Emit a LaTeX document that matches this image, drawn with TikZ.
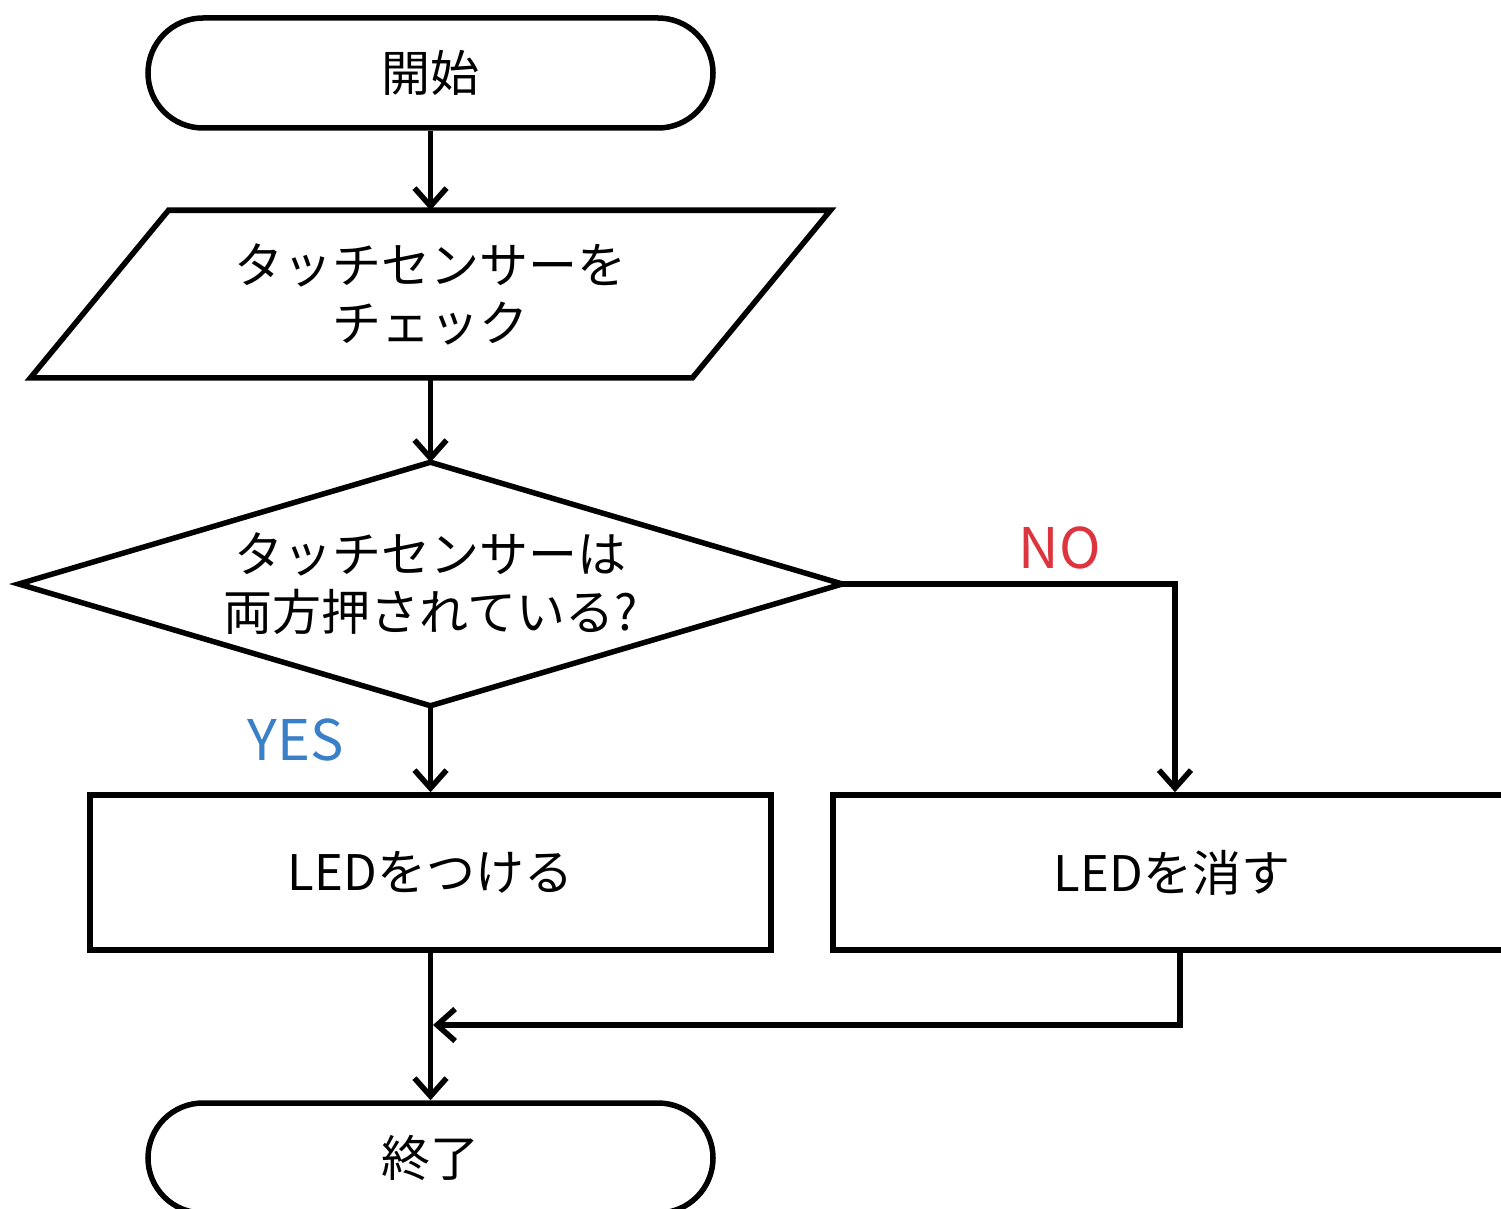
\documentclass[tikz,border=0pt]{standalone}
\usepackage{fontspec}
\setmainfont{Noto Sans CJK JP}
\usetikzlibrary{shapes.misc,arrows.meta}
\definecolor{nored}{RGB}{222,52,62}
\definecolor{yesblue}{RGB}{58,128,200}
\begin{document}
\begin{tikzpicture}[x=1pt,y=-1pt,
  line width=5.5pt,
  every node/.style={font=\fontsize{49}{58}\selectfont, align=center},
  term/.style={draw, rounded rectangle, minimum width=565pt, minimum height=110pt, inner sep=0pt},
  proc/.style={draw, rectangle, minimum height=155pt, inner sep=0pt},
  ghost/.style={inner sep=0pt},
  arr/.style={-{Straight Barb[length=18pt,width=32pt]}, line width=5.5pt},
  lbl/.style={font=\fontsize{56}{60}\selectfont}
]
\useasboundingbox (0,0) rectangle (1501,1209);
\fill[white] (0,0) rectangle (1501,1209);
\clip (0,0) rectangle (1501,1209);

\node[term] (start) at (430.5,73) {開始};

\node[ghost, minimum width=662pt, minimum height=162pt] (check) at (430.5,294) {タッチセンサーを\\チェック};
\draw ([xshift=-262pt]check.north) -- ([xshift=400pt]check.north)
  -- ([xshift=262pt]check.south) -- ([xshift=-400pt]check.south) -- cycle;

\node[ghost, minimum width=818pt, minimum height=238pt] (cond) at (430.5,584) {タッチセンサーは\\両方押されている?};
\draw (cond.north) -- (cond.east) -- (cond.south) -- (cond.west) -- cycle;

\node[proc, minimum width=681pt] (on) at (430.5,872.5) {LEDをつける};
\node[proc, minimum width=678pt] (off) at (1172,872.5) {LEDを消す};

\node[term] (end) at (430.5,1158) {終了};

\node[lbl, text=nored] (no) at (1060,548) {NO};
\node[lbl, text=yesblue] (yes) at (296,740) {YES};

\draw[arr] (start.south) -- (check.north);
\draw[arr] (check.south) -- (cond.north);
\draw[arr] (cond.south) -- (on.north);
\draw[arr] (cond.east) -| ([xshift=3pt]off.north);
\draw[arr] (on.south) -- (end.north);
\coordinate (mergept) at (433,1025);
\draw[arr] ([xshift=8pt]off.south) |- (mergept);
\end{tikzpicture}
\end{document}
